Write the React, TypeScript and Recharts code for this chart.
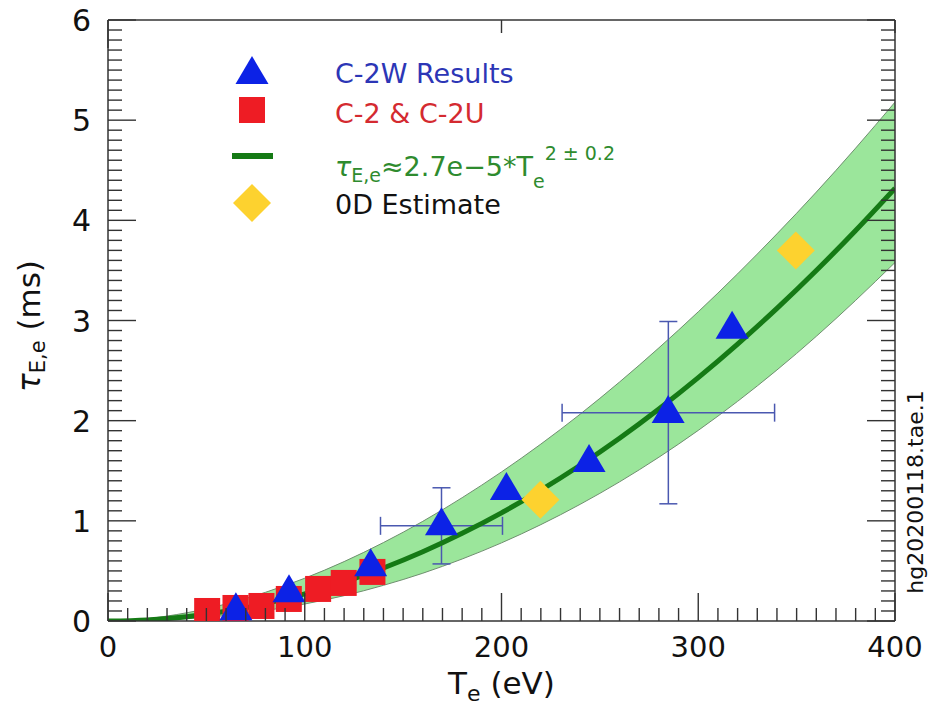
import React from "react";
import {
  ComposedChart,
  Area,
  Line,
  Scatter,
  XAxis,
  YAxis,
  ErrorBar,
  Legend,
} from "recharts";

const FONT = '"DejaVu Sans", Verdana, sans-serif';

// fit curve and its band, every 20 eV
const curveTe = [0, 20, 40, 60, 80, 100, 120, 140, 160, 180, 200, 220, 240, 260, 280, 300, 320, 340, 360, 380, 400];
const fitTau = [0, 0.011, 0.043, 0.097, 0.173, 0.27, 0.389, 0.529, 0.691, 0.875, 1.08, 1.307, 1.555, 1.825, 2.117, 2.43, 2.765, 3.121, 3.499, 3.899, 4.32];
const bandHigh = [0, 0.024, 0.082, 0.17, 0.286, 0.427, 0.593, 0.783, 0.995, 1.231, 1.488, 1.766, 2.065, 2.386, 2.727, 3.087, 3.466, 3.865, 4.282, 4.721, 5.18];
const bandLow = [0, 0.005, 0.023, 0.055, 0.104, 0.17, 0.253, 0.356, 0.477, 0.619, 0.78, 0.962, 1.165, 1.389, 1.635, 1.903, 2.193, 2.506, 2.842, 3.201, 3.579];

// C-2W results (blue triangles)
const c2wTe = [65, 92, 133.5, 169.5, 202.5, 244.5, 284.7, 317.2];
const c2wTau = [0.1, 0.28, 0.54, 0.95, 1.3, 1.58, 2.07, 2.91];

// C-2 & C-2U (red squares)
const c2Te = [50.4, 64.8, 78, 91.9, 106.8, 119.8, 134.4];
const c2Tau = [0.1, 0.13, 0.15, 0.22, 0.32, 0.38, 0.49];

// 0D estimate (yellow diamonds)
const odTe = [219.8, 349.6];
const odTau = [1.21, 3.7];

// error bars on two C-2W points
const errTe = [169.5, 284.8];
const errTau = [0.95, 2.08];
const errX = [31, 54];
const errY = [0.38, 0.91];

const xMajor = [0, 100, 200, 300, 400];
const yMajor = [0, 1, 2, 3, 4, 5, 6];
const xTicks = Array.from({ length: 41 }, (_, i) => i * 10);
const yTicks = Array.from({ length: 61 }, (_, i) => Number((i / 10).toFixed(1)));

const curveData = curveTe.map((t, i) => ({
  t,
  fit: fitTau[i],
  hi: bandHigh[i],
  lo: bandLow[i],
  band: [bandLow[i], bandHigh[i]],
}));
const c2wData = c2wTe.map((t, i) => ({ t, v: c2wTau[i] }));
const c2Data = c2Te.map((t, i) => ({ t, v: c2Tau[i] }));
const odData = odTe.map((t, i) => ({ t, v: odTau[i] }));
const errData = errTe.map((t, i) => ({ t, v: errTau[i], ex: errX[i], ey: errY[i] }));

const BLUE = "#0c22e6";
const RED = "#ee1c24";
const GOLD = "#fdd22f";
const GREEN = "#157a15";
const TICK = "#333";

const isMajor = (v: number, majors: number[]) => majors.some((m) => Math.abs(m - v) < 1e-6);

const BottomTick = (p: any) => {
  const major = isMajor(p.payload.value, xMajor);
  return (
    <g>
      <line x1={p.x} x2={p.x} y1={p.y} y2={p.y - (major ? 28 : 13)} stroke={TICK} strokeWidth={1.4} />
      {major && (
        <text x={p.x} y={p.y + 36} textAnchor="middle" fontSize={29} fontFamily={FONT} fill="#111">
          {p.payload.value}
        </text>
      )}
    </g>
  );
};

const TopTick = (p: any) => {
  const major = isMajor(p.payload.value, xMajor);
  return <line x1={p.x} x2={p.x} y1={p.y} y2={p.y + (major ? 28 : 13)} stroke={TICK} strokeWidth={1.4} />;
};

const LeftTick = (p: any) => {
  const major = isMajor(p.payload.value, yMajor);
  return (
    <g>
      <line x1={p.x} x2={p.x + (major ? 28 : 14)} y1={p.y} y2={p.y} stroke={TICK} strokeWidth={1.4} />
      {major && (
        <text x={p.x - 17} y={p.y + 11} textAnchor="end" fontSize={30} fontFamily={FONT} fill="#111">
          {Math.round(p.payload.value)}
        </text>
      )}
    </g>
  );
};

const RightTick = (p: any) => {
  const major = isMajor(p.payload.value, yMajor);
  return <line x1={p.x} x2={p.x - (major ? 28 : 14)} y1={p.y} y2={p.y} stroke={TICK} strokeWidth={1.4} />;
};

const Triangle = (p: any) => (
  <polygon
    points={`${p.cx},${p.cy - 18.7} ${p.cx - 16.5},${p.cy + 9.3} ${p.cx + 16.5},${p.cy + 9.3}`}
    fill={BLUE}
  />
);
const Square = (p: any) => <rect x={p.cx - 13} y={p.cy - 13} width={26} height={26} fill={RED} />;
const Diamond = (p: any) => (
  <polygon
    points={`${p.cx},${p.cy - 19} ${p.cx + 19},${p.cy} ${p.cx},${p.cy + 19} ${p.cx - 19},${p.cy}`}
    fill={GOLD}
  />
);
const NoShape = () => <g />;

const XLabel = (p: any) => {
  const vb = p.viewBox;
  return (
    <text x={vb.x + vb.width / 2} y={vb.y + 73} textAnchor="middle" fontSize={31} fontFamily={FONT} fill="#111">
      T<tspan fontSize={22} dy={7}>e</tspan>
      <tspan dy={-7}> (eV)</tspan>
    </text>
  );
};

const YLabel = () => (
  <text x={40} y={326} transform="rotate(-90 40 326)" textAnchor="middle" fontSize={31} fontFamily={FONT} fill="#111">
    <tspan fontStyle="italic">τ</tspan>
    <tspan fontSize={21} dy={5}>E,e</tspan>
    <tspan dy={-5}> (ms)</tspan>
  </text>
);

const RightNote = (p: any) => {
  const vb = p.viewBox;
  const x = vb.x + 28;
  const y = vb.y + 472;
  return (
    <text x={x} y={y} transform={`rotate(-90 ${x} ${y})`} textAnchor="middle" fontSize={22} fontFamily={FONT} fill="#111">
      hg20200118.tae.1
    </text>
  );
};

const LegendBox = () => (
  <svg width={933} height={230} style={{ display: "block" }}>
    <polygon points="252,56 235.5,84 268.5,84" fill={BLUE} />
    <text x={335} y={83} fontSize={27} fontFamily={FONT} fill="#2c36b6">C-2W Results</text>
    <rect x={239} y={97} width={26} height={26} fill={RED} />
    <text x={335} y={123} fontSize={27} fontFamily={FONT} fill="#d42a30">C-2 &amp; C-2U</text>
    <line x1={232} x2={273} y1={156} y2={156} stroke={GREEN} strokeWidth={6} />
    <text x={335} y={176} fontSize={27} fontFamily={FONT} fill="#2e8b2e">
      <tspan fontStyle="italic">τ</tspan>
      <tspan fontSize={19} dy={6}>E,e</tspan>
      <tspan dy={-6}>≈2.7e−5*T</tspan>
      <tspan fontSize={19} dy={12}>e</tspan>
      <tspan fontSize={19} dy={-28}>2 ± 0.2</tspan>
    </text>
    <polygon points="252,184 271,203 252,222 233,203" fill={GOLD} />
    <text x={335} y={214} fontSize={27} fontFamily={FONT} fill="#111">0D Estimate</text>
  </svg>
);

export default function App() {
  return (
    <div style={{ position: "absolute", left: 0, top: 0, width: 933, height: 708, background: "#fff" }}>
      <ComposedChart width={933} height={708} data={curveData} margin={{ top: 0, right: 0, bottom: 0, left: 0 }}>
        <XAxis
          xAxisId="b"
          type="number"
          dataKey="t"
          domain={[0, 400]}
          ticks={xTicks}
          interval={0}
          height={87}
          tickSize={0}
          tickMargin={0}
          tick={BottomTick}
          axisLine={{ stroke: TICK, strokeWidth: 1.5 }}
          allowDataOverflow
          label={XLabel}
        />
        <XAxis
          xAxisId="top"
          orientation="top"
          type="number"
          domain={[0, 400]}
          ticks={xTicks}
          interval={0}
          height={20}
          tickSize={0}
          tickMargin={0}
          tick={TopTick}
          axisLine={{ stroke: TICK, strokeWidth: 1.5 }}
          allowDataOverflow
        />
        <YAxis
          yAxisId="l"
          type="number"
          domain={[0, 6]}
          ticks={yTicks}
          interval={0}
          width={108}
          tickSize={0}
          tickMargin={0}
          tick={LeftTick}
          axisLine={{ stroke: TICK, strokeWidth: 1.5 }}
          allowDataOverflow
          label={YLabel}
        />
        <YAxis
          yAxisId="r"
          orientation="right"
          type="number"
          domain={[0, 6]}
          ticks={yTicks}
          interval={0}
          width={38}
          tickSize={0}
          tickMargin={0}
          tick={RightTick}
          axisLine={{ stroke: TICK, strokeWidth: 1.5 }}
          allowDataOverflow
          label={RightNote}
        />
        <Area
          xAxisId="b"
          yAxisId="l"
          dataKey="band"
          type="monotone"
          fill="#9be69b"
          fillOpacity={1}
          stroke="none"
          isAnimationActive={false}
        />
        <Line xAxisId="b" yAxisId="l" dataKey="hi" type="monotone" stroke="#6f8f6f" strokeWidth={1} dot={false} isAnimationActive={false} />
        <Line xAxisId="b" yAxisId="l" dataKey="lo" type="monotone" stroke="#6f8f6f" strokeWidth={1} dot={false} isAnimationActive={false} />
        <Scatter xAxisId="b" yAxisId="l" data={c2Data} dataKey="v" shape={Square} isAnimationActive={false} />
        <Scatter xAxisId="b" yAxisId="l" data={errData} dataKey="v" shape={NoShape} isAnimationActive={false}>
          <ErrorBar dataKey="ex" direction="x" width={9} stroke="#4a58b0" strokeWidth={1.5} />
          <ErrorBar dataKey="ey" direction="y" width={9} stroke="#4a58b0" strokeWidth={1.5} />
        </Scatter>
        <Scatter xAxisId="b" yAxisId="l" data={c2wData} dataKey="v" shape={Triangle} isAnimationActive={false} />
        <Line xAxisId="b" yAxisId="l" dataKey="fit" type="monotone" stroke={GREEN} strokeWidth={5} dot={false} isAnimationActive={false} />
        <Scatter xAxisId="b" yAxisId="l" data={odData} dataKey="v" shape={Diamond} isAnimationActive={false} />
        <Legend
          layout="vertical"
          verticalAlign="middle"
          align="center"
          wrapperStyle={{ position: "absolute", left: 0, top: 0, width: 933, height: 230, pointerEvents: "none" }}
          content={LegendBox}
        />
      </ComposedChart>
    </div>
  );
}
